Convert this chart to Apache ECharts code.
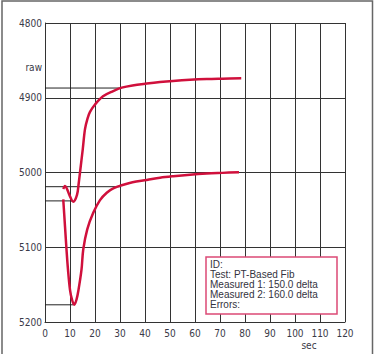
<!DOCTYPE html>
<html>
<head>
<meta charset="utf-8">
<script src="https://cdn.jsdelivr.net/npm/echarts@6/dist/echarts.min.js"></script>
<style>
html,body{margin:0;padding:0;background:#fff;}
#chart{width:375px;height:354px;}
</style>
</head>
<body>
<div id="chart"></div>
<script>
// x: sec, y: raw (inverted axis)
var xTicks = [0, 10, 20, 30, 40, 50, 60, 70, 80, 90, 100, 110, 120];
var yTicks = [4800, 4900, 5000, 5100, 5200];

var curve1 = [[7.3,5022],[8,5018],[8.8,5022],[10,5032],[11.3,5039],[12.8,5030],[13.5,5014],[14,5000],[15.1,4969],[16,4942],[17,4928],[18,4919],[20,4909],[23.2,4898],[27.3,4891],[30.7,4886.5],[35,4883.5],[40.7,4881],[46,4879],[51.2,4877.5],[58,4876],[64.7,4875],[71,4874.5],[78.5,4874]];
var curve2 = [[7.3,5036],[8,5072],[8.6,5103],[9.2,5130],[10,5157],[10.8,5170],[11.7,5177],[12.6,5170],[13.4,5157],[14.6,5130],[15.3,5103],[16.9,5076],[19.3,5054],[22,5037],[24.7,5027],[27.5,5021],[30.7,5017],[35,5013],[40.7,5010],[46,5007],[51.3,5005],[58,5003],[64.7,5001.5],[71,5000.5],[77.6,4999.5]];

var marker1Top = [[0,4887],[30.5,4887]];
var marker1Bottom = [[0,5038],[11.3,5038]];
var marker2Top = [[0,5019],[30.5,5019]];
var marker2Bottom = [[0,5177],[11.4,5177]];

var infoLines = ['ID:', 'Test: PT-Based Fib', 'Measured 1: 150.0 delta', 'Measured 2: 160.0 delta', 'Errors:'];
var yName = 'raw';
var xName = 'sec';

var narrow = "'Liberation Sans Narrow','DejaVu Sans Condensed','Arial Narrow',sans-serif";
var labelColor = '#3a3a48';
var curveColor = '#d0103c';

var chart = echarts.init(document.getElementById('chart'), null, {renderer: 'svg'});

function markerSeries(d) {
  return {type: 'line', data: d, symbol: 'none', silent: true, z: 1,
    lineStyle: {color: '#222', width: 1}};
}

chart.setOption({
  animation: false,
  backgroundColor: '#fff',
  grid: {left: 45, top: 23, right: 30, bottom: 32, containLabel: false},
  xAxis: {
    type: 'value', min: 0, max: 120, interval: 10,
    axisLine: {show: true, lineStyle: {color: '#333', width: 1}},
    axisTick: {show: false},
    axisLabel: {color: labelColor, fontSize: 10, fontFamily: narrow, margin: 6,
      formatter: function (v) { return xTicks.indexOf(v) >= 0 ? String(v) : ''; }},
    splitLine: {show: true, lineStyle: {color: '#333', width: 1}}
  },
  yAxis: {
    type: 'value', min: 4800, max: 5200, interval: 100, inverse: true,
    axisLine: {show: true, lineStyle: {color: '#333', width: 1}},
    axisTick: {show: false},
    axisLabel: {color: labelColor, fontSize: 10, fontFamily: narrow, margin: 3,
      formatter: function (v) { return yTicks.indexOf(v) >= 0 ? String(v) : ''; }},
    splitLine: {show: true, lineStyle: {color: '#333', width: 1}}
  },
  series: [
    markerSeries(marker1Top),
    markerSeries(marker1Bottom),
    markerSeries(marker2Top),
    markerSeries(marker2Bottom),
    {type: 'line', data: curve1, symbol: 'none', smooth: 0.35, z: 3,
      lineStyle: {color: curveColor, width: 2.5}},
    {type: 'line', data: curve2, symbol: 'none', smooth: 0.35, z: 3,
      lineStyle: {color: curveColor, width: 2.5}}
  ],
  graphic: [
    {type: 'rect', z: 0, silent: true, shape: {x: 2, y: 1, width: 370.5, height: 400},
      style: {fill: 'none', stroke: '#666', lineWidth: 1.5}},
    {type: 'text', z: 10, x: 42, y: 67, silent: true,
      style: {text: yName, fill: labelColor, fontSize: 10, fontFamily: narrow, align: 'right', verticalAlign: 'middle'}},
    {type: 'text', z: 10, x: 309, y: 345, silent: true,
      style: {text: xName, fill: labelColor, fontSize: 10, fontFamily: narrow, align: 'center', verticalAlign: 'middle'}},
    {type: 'rect', z: 10, silent: true, shape: {x: 206, y: 257, width: 131, height: 57},
      style: {fill: '#fff', stroke: '#dc4a76', lineWidth: 1.5}},
    {type: 'text', z: 11, x: 210, y: 259, silent: true,
      style: {text: infoLines.join('\n'), fill: '#333340', fontSize: 10, lineHeight: 10.2,
        fontFamily: "'Liberation Sans',Arial,sans-serif", align: 'left', verticalAlign: 'top'}}
  ]
});
</script>
</body>
</html>
